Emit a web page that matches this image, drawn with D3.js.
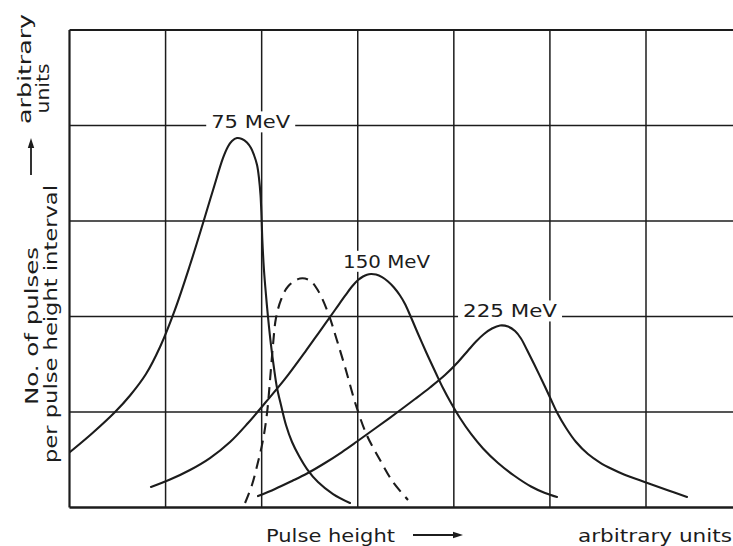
<!DOCTYPE html>
<html>
<head>
<meta charset="utf-8">
<script src="https://cdn.jsdelivr.net/npm/d3@7"></script>
<style>
  html, body { margin: 0; padding: 0; background: #ffffff; }
  svg { display: block; }
  text { font-family: "DejaVu Sans", sans-serif; fill: #1c1c1c; }
</style>
</head>
<body>
<svg id="chart" width="733" height="546"></svg>
<script>
// Grid in arbitrary units: pulse height 0..7, pulse count 0..5
const gridPulseHeight = [0, 1, 2, 3, 4, 5, 6, 7];
const gridCounts = [0, 1, 2, 3, 4, 5];

// Pulse-height spectra, [pulse height, number of pulses] in arbitrary units
const spectrum75 = [
  [0.005, 0.581], [0.234, 0.775], [0.474, 1.000], [0.630, 1.173], [0.796, 1.398],
  [0.942, 1.681], [1.098, 2.073], [1.254, 2.539], [1.390, 2.979], [1.494, 3.325],
  [1.598, 3.660], [1.650, 3.780], [1.691, 3.838], [1.743, 3.869], [1.795, 3.859],
  [1.847, 3.822], [1.889, 3.764], [1.920, 3.691], [1.952, 3.586], [1.972, 3.450],
  [1.988, 3.272], [1.998, 3.063], [2.007, 2.801], [2.024, 2.487], [2.045, 2.225],
  [2.066, 1.995], [2.097, 1.702], [2.128, 1.461], [2.160, 1.251], [2.201, 1.073],
  [2.253, 0.864], [2.316, 0.686], [2.389, 0.539], [2.472, 0.403], [2.586, 0.267],
  [2.743, 0.141], [2.919, 0.047]
];
const spectrum150 = [
  [0.848, 0.215], [1.046, 0.293], [1.254, 0.393], [1.462, 0.518], [1.671, 0.686],
  [1.858, 0.885], [2.035, 1.094], [2.243, 1.346], [2.451, 1.628], [2.607, 1.848],
  [2.763, 2.068], [2.867, 2.215], [2.940, 2.314], [3.003, 2.382], [3.055, 2.419],
  [3.096, 2.438], [3.138, 2.445], [3.190, 2.439], [3.253, 2.412], [3.315, 2.367],
  [3.377, 2.304], [3.440, 2.220], [3.492, 2.131], [3.544, 2.016], [3.606, 1.869],
  [3.669, 1.723], [3.742, 1.560], [3.815, 1.403], [3.887, 1.251], [3.971, 1.094],
  [4.064, 0.937], [4.179, 0.770], [4.304, 0.618], [4.460, 0.466], [4.626, 0.335],
  [4.803, 0.220], [4.949, 0.152], [5.074, 0.110]
];
const spectrum225 = [
  [1.962, 0.120], [2.139, 0.194], [2.316, 0.278], [2.472, 0.356], [2.659, 0.466],
  [2.836, 0.581], [2.992, 0.691], [3.180, 0.827], [3.388, 0.979], [3.596, 1.136],
  [3.752, 1.257], [3.908, 1.387], [4.044, 1.524], [4.148, 1.644], [4.231, 1.738],
  [4.314, 1.817], [4.397, 1.874], [4.481, 1.906], [4.564, 1.895], [4.637, 1.848],
  [4.699, 1.770], [4.762, 1.649], [4.835, 1.503], [4.918, 1.330], [5.001, 1.152],
  [5.074, 0.995], [5.168, 0.833], [5.272, 0.686], [5.396, 0.560], [5.521, 0.471],
  [5.646, 0.403], [5.771, 0.346], [6.000, 0.262], [6.219, 0.183], [6.427, 0.110]
];
const spectrumDashed = [
  [1.827, 0.047], [1.899, 0.236], [1.962, 0.476], [2.014, 0.707], [2.056, 0.990],
  [2.087, 1.335], [2.118, 1.702], [2.149, 1.984], [2.201, 2.173], [2.274, 2.314],
  [2.399, 2.398], [2.503, 2.377], [2.586, 2.272], [2.690, 2.042], [2.784, 1.749],
  [2.878, 1.435], [2.982, 1.068], [3.096, 0.754], [3.232, 0.497], [3.367, 0.267],
  [3.523, 0.079]
];

// Curve labels: text, anchor position (centre x, baseline y) and drawn width
const curveLabels = [
  { text: "75 MeV",  x: 1.886, y: 3.97, width: 79 },
  { text: "150 MeV", x: 3.300, y: 2.51, width: 87 },
  { text: "225 MeV", x: 4.585, y: 1.99, width: 94 }
];

const svg = d3.select("#chart");
const ink = "#1c1c1c";

const x = d3.scaleLinear().domain([0, 6]).range([69.5, 646]);
const y = d3.scaleLinear().domain([0, 5]).range([507.5, 30]);

// Grid lines
const grid = svg.append("g");
grid.selectAll("line.v").data(gridPulseHeight).join("line")
  .attr("x1", d => x(d)).attr("x2", d => x(d))
  .attr("y1", y(0)).attr("y2", y(5))
  .attr("stroke", ink)
  .attr("stroke-width", d => d === 0 ? 2.2 : 1.5);
grid.selectAll("line.h").data(gridCounts).join("line")
  .attr("x1", x(0)).attr("x2", x(7))
  .attr("y1", d => y(d)).attr("y2", d => y(d))
  .attr("stroke", ink)
  .attr("stroke-width", d => d === 0 ? 2.6 : (d === 5 ? 2 : 1.5));

// Spectra
const line = d3.line()
  .x(d => x(d[0])).y(d => y(d[1]))
  .curve(d3.curveCatmullRom.alpha(0.5));

const curves = svg.append("g").attr("fill", "none").attr("stroke", ink)
  .attr("stroke-width", 2.1).attr("stroke-linecap", "round");
[spectrum75, spectrum150, spectrum225].forEach(s => {
  curves.append("path").attr("d", line(s));
});
curves.append("path").attr("d", line(spectrumDashed))
  .attr("stroke-dasharray", "11,7").attr("stroke-linecap", "butt");

// Labels with a paper-coloured backing so the grid breaks around them
const labels = svg.append("g");
curveLabels.forEach(l => {
  const cx = x(l.x), by = y(l.y);
  labels.append("rect")
    .attr("x", cx - l.width / 2 - 5).attr("y", by - 17)
    .attr("width", l.width + 10).attr("height", 21)
    .attr("fill", "#ffffff");
  labels.append("text")
    .attr("x", cx).attr("y", by)
    .attr("text-anchor", "middle")
    .attr("font-size", 18)
    .attr("textLength", l.width).attr("lengthAdjust", "spacingAndGlyphs")
    .text(l.text);
});

// Arrow helper: shaft plus filled head
function arrow(g, x1, y1, x2, y2) {
  const ang = Math.atan2(y2 - y1, x2 - x1);
  const hl = 10, hw = 3.2;
  const bx = x2 - hl * Math.cos(ang), by = y2 - hl * Math.sin(ang);
  g.append("line").attr("x1", x1).attr("y1", y1).attr("x2", bx).attr("y2", by)
    .attr("stroke", ink).attr("stroke-width", 1.8);
  g.append("path")
    .attr("d", `M${x2},${y2}L${bx - hw * Math.sin(ang)},${by + hw * Math.cos(ang)}L${bx + hw * Math.sin(ang)},${by - hw * Math.cos(ang)}Z`)
    .attr("fill", ink);
}

// X axis title
const xt = svg.append("g");
xt.append("text").attr("x", 266).attr("y", 542).attr("font-size", 18)
  .attr("textLength", 129).attr("lengthAdjust", "spacingAndGlyphs").text("Pulse height");
arrow(xt, 413, 535, 463, 535);
xt.append("text").attr("x", 578).attr("y", 542).attr("font-size", 18)
  .attr("textLength", 154).attr("lengthAdjust", "spacingAndGlyphs").text("arbitrary units");

// Y axis title (rotated)
const yt = svg.append("g");
function vtext(bx, cy, len, str) {
  yt.append("text")
    .attr("transform", `translate(${bx},${cy}) rotate(-90)`)
    .attr("text-anchor", "middle").attr("font-size", 18)
    .attr("textLength", len).attr("lengthAdjust", "spacingAndGlyphs")
    .text(str);
}
vtext(38, 326, 158, "No. of pulses");
vtext(57, 324, 278, "per pulse height interval");
arrow(yt, 31, 175, 31, 138);
vtext(31, 69, 110, "arbitrary");
vtext(49, 88.5, 50, "units");
</script>
</body>
</html>
